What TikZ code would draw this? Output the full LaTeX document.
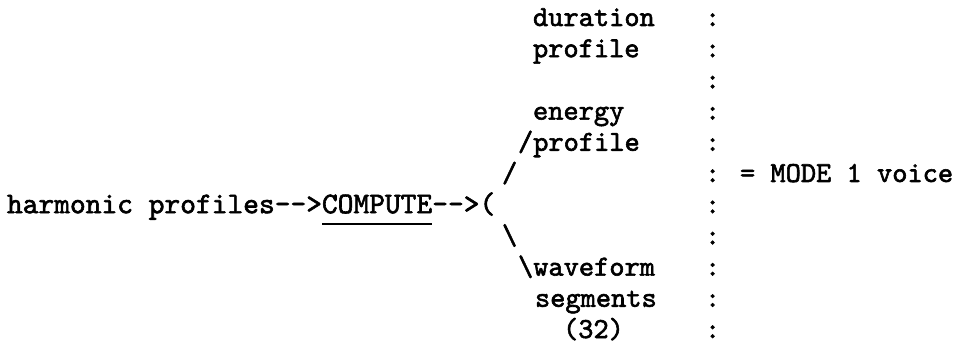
\documentclass[tikz,border=0pt]{standalone}
\usepackage{fontspec}
\newfontfamily\twfam{lmmono10-regular}[Extension=.otf, FakeBold=2]
\newcommand\twfont{\twfam\fontsize{29}{31}\selectfont}
\newcommand\twfontl{\twfam\fontsize{30}{31}\selectfont}
\begin{document}
\begin{tikzpicture}[x=1pt,y=-1pt,
  txt/.style={inner sep=0pt, outer sep=0pt, anchor=base west, font=\twfont},
  ltxt/.style={txt, font=\twfontl},
  ul/.style={line width=2.5pt}]
\useasboundingbox[fill=white] (0,0) rectangle (961,347);
\node[txt] (dur)   at (533,26)    {duration};
\node[txt] (prof1) at (533,57.2)  {profile};
\node[txt] (ene)   at (533,119.6) {energy};
\node[txt] (prof2) at (518,150.8) {/profile};
\node[txt] (sl1)   at (502,182)   {/};
\node[txt] (mode)  at (740,182)   {= MODE 1 voice};
\node[ltxt] (hp)   at (7,213.2)   {harmonic profiles};
\node[ltxt] (ar1)  at (hp.base east)   {-{}-{}>};
\node[ltxt] (comp) at (ar1.base east)  {COMPUTE};
\node[ltxt] (ar2)  at (comp.base east) {-{}-{}>};
\node[ltxt] (par)  at (ar2.base east)  {(};
\node[txt] (sl2)   at (502,244.4) {\textbackslash};
\node[txt] (wave)  at (518,275.6) {\textbackslash waveform};
\node[txt] (seg)   at (535,306.8) {segments};
\node[txt] (n32)   at (563,338)   {(32)};
\foreach \i in {0,...,10} \node[txt] (c\i) at (705,26+31.2*\i) {:};
\draw[ul] ([yshift=-11pt]comp.base west) -- ([yshift=-11pt]comp.base east);
\end{tikzpicture}
\end{document}
